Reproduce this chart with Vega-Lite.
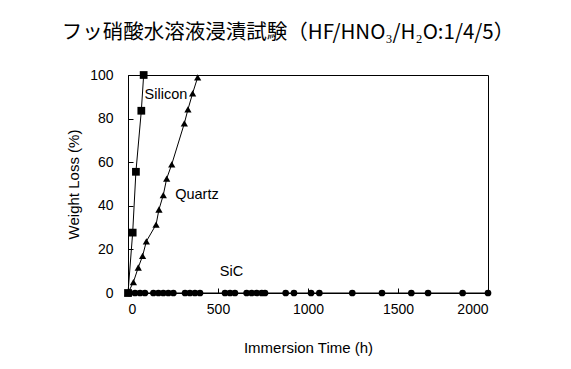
{
  "$schema": "https://vega.github.io/schema/vega-lite/v6.json",
  "autosize": "none",
  "width": 360,
  "height": 218,
  "padding": {"left": 128, "top": 75, "right": 83, "bottom": 76},
  "background": "white",
  "config": {
    "view": {"stroke": "black", "strokeWidth": 1},
    "font": "Liberation Sans",
    "axis": {"domainColor": "black", "tickColor": "black", "labelColor": "black", "titleColor": "black", "grid": false, "labelFontSize": 14, "titleFontSize": 15, "titleFontWeight": "normal", "tickSize": -5, "labelFont": "Liberation Sans", "titleFont": "Liberation Sans"}
  },
  "title": {
    "text": "フッ硝酸水溶液浸漬試験（HF/HNO₃/H₂O:1/4/5）",
    "font": "Noto Sans CJK JP",
    "fontSize": 20.5,
    "fontWeight": "normal",
    "color": "black",
    "anchor": "middle",
    "frame": "group",
    "dx": -20,
    "offset": 25
  },
  "datasets": {
    "pts": [
      {"material": "Silicon", "time": 0, "loss": 0},
      {"material": "Silicon", "time": 26, "loss": 27.7},
      {"material": "Silicon", "time": 44, "loss": 55.6},
      {"material": "Silicon", "time": 74, "loss": 83.6},
      {"material": "Silicon", "time": 87, "loss": 100},
      {"material": "Quartz", "time": 0, "loss": 0},
      {"material": "Quartz", "time": 30, "loss": 5},
      {"material": "Quartz", "time": 57, "loss": 11.7},
      {"material": "Quartz", "time": 81, "loss": 17},
      {"material": "Quartz", "time": 102, "loss": 23.7},
      {"material": "Quartz", "time": 156, "loss": 31.4},
      {"material": "Quartz", "time": 172, "loss": 38.3},
      {"material": "Quartz", "time": 196, "loss": 44.9},
      {"material": "Quartz", "time": 215, "loss": 52.5},
      {"material": "Quartz", "time": 243, "loss": 59},
      {"material": "Quartz", "time": 313, "loss": 77.8},
      {"material": "Quartz", "time": 333, "loss": 84.2},
      {"material": "Quartz", "time": 359, "loss": 91.6},
      {"material": "Quartz", "time": 387, "loss": 98.9},
      {"material": "SiC", "time": 10, "loss": 0},
      {"material": "SiC", "time": 39, "loss": 0},
      {"material": "SiC", "time": 67, "loss": 0},
      {"material": "SiC", "time": 94, "loss": 0},
      {"material": "SiC", "time": 141, "loss": 0},
      {"material": "SiC", "time": 169, "loss": 0},
      {"material": "SiC", "time": 196, "loss": 0},
      {"material": "SiC", "time": 224, "loss": 0},
      {"material": "SiC", "time": 252, "loss": 0},
      {"material": "SiC", "time": 317, "loss": 0},
      {"material": "SiC", "time": 344, "loss": 0},
      {"material": "SiC", "time": 372, "loss": 0},
      {"material": "SiC", "time": 400, "loss": 0},
      {"material": "SiC", "time": 539, "loss": 0},
      {"material": "SiC", "time": 567, "loss": 0},
      {"material": "SiC", "time": 594, "loss": 0},
      {"material": "SiC", "time": 659, "loss": 0},
      {"material": "SiC", "time": 687, "loss": 0},
      {"material": "SiC", "time": 715, "loss": 0},
      {"material": "SiC", "time": 743, "loss": 0},
      {"material": "SiC", "time": 761, "loss": 0},
      {"material": "SiC", "time": 876, "loss": 0},
      {"material": "SiC", "time": 922, "loss": 0},
      {"material": "SiC", "time": 1017, "loss": 0},
      {"material": "SiC", "time": 1063, "loss": 0},
      {"material": "SiC", "time": 1246, "loss": 0},
      {"material": "SiC", "time": 1411, "loss": 0},
      {"material": "SiC", "time": 1574, "loss": 0},
      {"material": "SiC", "time": 1667, "loss": 0},
      {"material": "SiC", "time": 1859, "loss": 0},
      {"material": "SiC", "time": 2000, "loss": 0}
    ],
    "labels": [
      {"label": "Silicon", "time": 211, "loss": 90.8},
      {"label": "Quartz", "time": 383, "loss": 44.9},
      {"label": "SiC", "time": 575, "loss": 9.5}
    ]
  },
  "layer": [
    {
      "data": {"name": "pts"},
      "mark": {"type": "line", "color": "black", "strokeWidth": 1, "clip": false},
      "encoding": {
        "x": {"field": "time", "type": "quantitative", "scale": {"domain": [0, 2000], "nice": false}, "axis": {"values": [0, 500, 1000, 1500, 2000], "format": "d", "title": "Immersion Time (h)", "labelPadding": 14, "titleY": 47}},
        "y": {"field": "loss", "type": "quantitative", "scale": {"domain": [0, 100], "nice": false}, "axis": {"values": [0, 20, 40, 60, 80, 100], "title": "Weight Loss (%)", "labelPadding": 20, "titleX": -47}},
        "detail": {"field": "material"}
      }
    },
    {
      "data": {"name": "pts"},
      "mark": {"type": "point", "filled": true, "color": "black", "opacity": 1, "clip": false},
      "encoding": {
        "x": {"field": "time", "type": "quantitative"},
        "y": {"field": "loss", "type": "quantitative"},
        "shape": {"field": "material", "type": "nominal", "scale": {"domain": ["Silicon", "Quartz", "SiC"], "range": ["square", "triangle-up", "circle"]}, "legend": null},
        "size": {"field": "material", "type": "nominal", "scale": {"domain": ["Silicon", "Quartz", "SiC"], "range": [60, 45, 55]}, "legend": null}
      }
    },
    {
      "data": {"name": "labels"},
      "mark": {"type": "text", "fontSize": 14.5, "color": "black", "font": "Liberation Sans"},
      "encoding": {
        "x": {"field": "time", "type": "quantitative"},
        "y": {"field": "loss", "type": "quantitative"},
        "text": {"field": "label"}
      }
    }
  ]
}
